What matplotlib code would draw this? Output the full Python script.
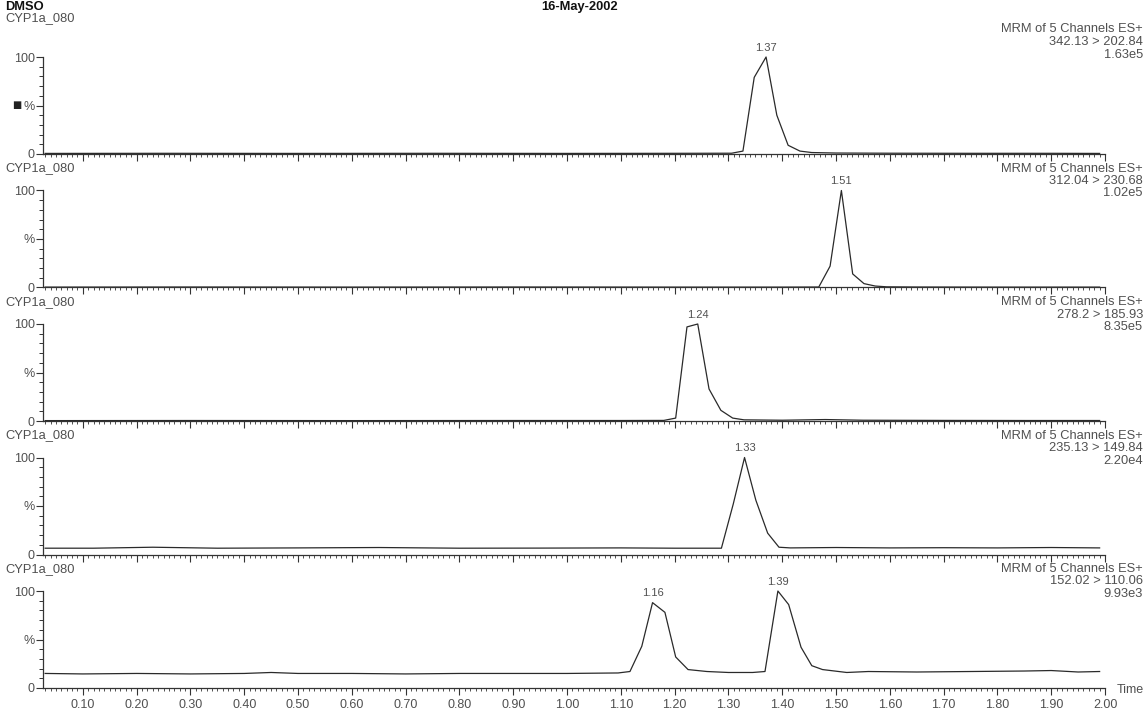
import matplotlib
matplotlib.use("Agg")
import matplotlib.pyplot as plt
from matplotlib.ticker import MultipleLocator, FixedLocator, FixedFormatter

plt.rcParams['font.family'] = ['Liberation Sans', 'DejaVu Sans']

# ---------------- data ----------------
sample_name = "CYP1a_080"
header_left = "DMSO"
header_date = "16-May-2002"
scan_desc = "MRM of 5 Channels ES+"
channels = ["342.13 > 202.84", "312.04 > 230.68", "278.2 > 185.93",
            "235.13 > 149.84", "152.02 > 110.06"]
intensities = ["1.63e5", "1.02e5", "8.35e5", "2.20e4", "9.93e3"]

p1_t = [0.03, 0.25, 0.50, 0.75, 1.00, 1.20, 1.306, 1.327, 1.348, 1.370, 1.390,
        1.411, 1.433, 1.455, 1.50, 1.60, 1.75, 1.90, 1.99]
p1_v = [0.6, 0.7, 0.6, 0.7, 0.6, 0.7, 0.8, 3, 79, 100, 40, 9, 3, 1.5, 1.0,
        0.8, 0.7, 0.7, 0.6]

p2_t = [0.03, 0.30, 0.60, 0.90, 1.20, 1.40, 1.468, 1.489, 1.510, 1.531, 1.552,
        1.573, 1.594, 1.65, 1.80, 1.99]
p2_v = [0.4, 0.5, 0.4, 0.5, 0.4, 0.4, 0.5, 22, 100, 14, 4, 1.5, 0.7, 0.5,
        0.4, 0.4]

p3_t = [0.03, 0.30, 0.60, 0.90, 1.10, 1.180, 1.202, 1.223, 1.243, 1.264,
        1.286, 1.308, 1.329, 1.40, 1.48, 1.55, 1.70, 1.85, 1.99]
p3_v = [0.4, 0.5, 0.4, 0.5, 0.5, 0.6, 3, 97, 100, 33, 11, 3, 1.2, 0.8, 1.5,
        0.8, 0.6, 0.5, 0.5]

p4_t = [0.03, 0.12, 0.23, 0.35, 0.50, 0.65, 0.80, 0.95, 1.10, 1.20, 1.287,
        1.309, 1.330, 1.351, 1.373, 1.394, 1.415, 1.50, 1.60, 1.70, 1.80,
        1.90, 1.99]
p4_v = [6.5, 6.5, 7.5, 6.5, 6.8, 7.2, 6.5, 6.6, 6.8, 6.5, 6.5, 52, 100, 56,
        22, 7.5, 6.8, 7.2, 6.8, 7.0, 6.8, 7.2, 6.8]

p5_t = [0.03, 0.10, 0.20, 0.30, 0.40, 0.45, 0.50, 0.60, 0.70, 0.80, 0.90,
        1.00, 1.095, 1.117, 1.139, 1.159, 1.182, 1.202, 1.225, 1.26, 1.30,
        1.345, 1.368, 1.392, 1.412, 1.435, 1.455, 1.475, 1.52, 1.56, 1.65,
        1.75, 1.85, 1.90, 1.95, 1.99]
p5_v = [15, 14.5, 15, 14.5, 15, 16, 15, 15, 14.5, 15, 15, 15, 15.5, 17, 43,
        88, 78, 32, 19, 17, 16, 16, 17, 100, 86, 42, 23, 19, 16, 17, 16.5, 17,
        17.5, 18, 16.5, 17]

peak_labels = [[(1.370, 100, "1.37")],
               [(1.510, 100, "1.51")],
               [(1.243, 100, "1.24")],
               [(1.330, 100, "1.33")],
               [(1.159, 88, "1.16"), (1.392, 100, "1.39")]]

x_tick_vals = [0.10, 0.20, 0.30, 0.40, 0.50, 0.60, 0.70, 0.80, 0.90, 1.00,
               1.10, 1.20, 1.30, 1.40, 1.50, 1.60, 1.70, 1.80, 1.90, 2.00]
x_tick_labels = ["0.10", "0.20", "0.30", "0.40", "0.50", "0.60", "0.70",
                 "0.80", "0.90", "1.00", "1.10", "1.20", "1.30", "1.40",
                 "1.50", "1.60", "1.70", "1.80", "1.90", "2.00"]

traces = [(p1_t, p1_v), (p2_t, p2_v), (p3_t, p3_v), (p4_t, p4_v), (p5_t, p5_v)]

# ---------------- layout ----------------
W, H = 1147, 709
fig = plt.figure(figsize=(W / 100, H / 100), dpi=100)

def fx(x):
    return x / W

def fy(y):
    return 1 - y / H

TXT = "#505050"
LINE = "#2a2a2a"
left_px, right_px = 43, 1105
top0, ax_h, step = 57, 97, 133.5

for i, (t, v) in enumerate(traces):
    top = top0 + i * step
    ax = fig.add_axes([fx(left_px), fy(top + ax_h), (right_px - left_px) / W, ax_h / H])
    ax.plot(t, v, color=LINE, lw=0.9, clip_on=False)
    ax.set_xlim(0.026, 2.0)
    ax.set_ylim(0, 100)
    for s in ("top", "right"):
        ax.spines[s].set_visible(False)
    for s in ("left", "bottom"):
        ax.spines[s].set_color("#333333")
        ax.spines[s].set_linewidth(0.9)
    ax.yaxis.set_major_locator(FixedLocator([0, 50, 100]))
    ax.yaxis.set_major_formatter(FixedFormatter(["0", "%", "100"]))
    ax.yaxis.set_minor_locator(MultipleLocator(10))
    ax.xaxis.set_major_locator(FixedLocator(x_tick_vals))
    ax.xaxis.set_minor_locator(MultipleLocator(0.01))
    ax.tick_params(axis="y", which="major", length=5, width=0.8, color="#333333",
                   labelsize=9, labelcolor=TXT, pad=1)
    ax.tick_params(axis="y", which="minor", length=3, width=0.7, color="#333333")
    ax.tick_params(axis="x", which="major", length=5, width=0.8, color="#333333",
                   labelsize=9, labelcolor=TXT, pad=3)
    ax.tick_params(axis="x", which="minor", length=2.5, width=0.6, color="#333333")
    if i == len(traces) - 1:
        ax.xaxis.set_major_formatter(FixedFormatter(x_tick_labels))
    else:
        ax.tick_params(axis="x", labelbottom=False)
    for (pt, pv, lab) in peak_labels[i]:
        ax.annotate(lab, (pt, pv), xytext=(0, 3), textcoords="offset points",
                    ha="center", va="bottom", fontsize=8, color=TXT,
                    annotation_clip=False)
    # labels
    if i == 0:
        fig.text(fx(5), fy(18), sample_name, fontsize=9.3, color=TXT, va="center")
        ys = [29, 42, 55]
    else:
        cy = top - 22
        fig.text(fx(5), fy(cy), sample_name, fontsize=9.3, color=TXT, va="center")
        ys = [cy, cy + 12.5, cy + 25]
    fig.text(fx(1143), fy(ys[0]), scan_desc, fontsize=9.3, color=TXT, ha="right", va="center")
    fig.text(fx(1143), fy(ys[1]), channels[i], fontsize=9.3, color=TXT, ha="right", va="center")
    fig.text(fx(1143), fy(ys[2]), intensities[i], fontsize=9.3, color=TXT, ha="right", va="center")

fig.text(fx(5), fy(7), header_left, fontsize=9.3, fontweight="bold", color="#111111", va="center")
fig.text(fx(580), fy(7), header_date, fontsize=9.3, fontweight="bold", color="#111111",
         ha="center", va="center")
fig.text(fx(17), fy(105), "\u25A0", fontsize=7, color="#222222", ha="center", va="center",
         family=["DejaVu Sans"])
fig.text(fx(1130), fy(690), "Time", fontsize=9, color=TXT, ha="center", va="center")

fig.savefig("out.png", dpi=100, facecolor="white")
